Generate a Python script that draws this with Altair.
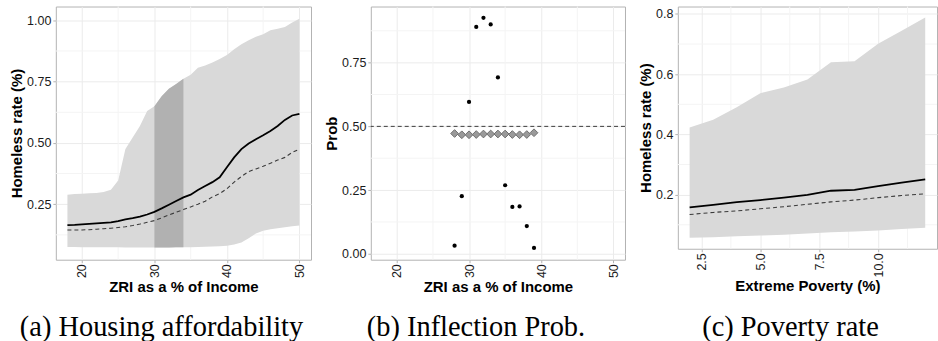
import altair as alt
import pandas as pd

# ---------- Panel (a): housing affordability ----------
zri = list(range(18, 51))
upper_a = [0.289, 0.292, 0.293, 0.295, 0.296, 0.300, 0.309, 0.347, 0.475, 0.522, 0.569,
           0.630, 0.650, 0.690, 0.721, 0.740, 0.762, 0.778, 0.807, 0.816, 0.828, 0.842,
           0.859, 0.882, 0.903, 0.919, 0.933, 0.943, 0.960, 0.966, 0.973, 0.991, 1.007]
lower_a = [0.075, 0.075, 0.074, 0.074, 0.074, 0.074, 0.074, 0.074, 0.073, 0.073, 0.073,
           0.073, 0.073, 0.073, 0.073, 0.074, 0.074, 0.074, 0.075, 0.076, 0.077, 0.078,
           0.080, 0.086, 0.094, 0.111, 0.130, 0.142, 0.148, 0.152, 0.156, 0.160, 0.163]
mean_a = [0.165, 0.166, 0.168, 0.170, 0.172, 0.174, 0.176, 0.181, 0.188, 0.193, 0.199,
          0.208, 0.219, 0.233, 0.248, 0.263, 0.278, 0.289, 0.308, 0.324, 0.340, 0.360,
          0.401, 0.441, 0.475, 0.498, 0.515, 0.531, 0.549, 0.569, 0.594, 0.612, 0.619]
median_a = [0.145, 0.145, 0.145, 0.146, 0.148, 0.150, 0.152, 0.155, 0.158, 0.163, 0.169,
            0.176, 0.183, 0.194, 0.206, 0.217, 0.228, 0.239, 0.250, 0.262, 0.280, 0.293,
            0.313, 0.340, 0.363, 0.383, 0.394, 0.405, 0.417, 0.430, 0.441, 0.461, 0.475]
highlight_from, highlight_to = 30, 34

# ---------- Panel (b): inflection probability ----------
zri_b = list(range(28, 40))
prob_dots = [0.032, 0.226, 0.596, 0.890, 0.926, 0.900, 0.692, 0.269, 0.184, 0.186, 0.109, 0.023]
prob_diamonds = [0.472, 0.467, 0.467, 0.468, 0.470, 0.470, 0.470, 0.470, 0.468, 0.467, 0.468, 0.475]
threshold = 0.5

# ---------- Panel (c): poverty rate ----------
poverty = list(range(2, 13))
upper_c = [0.423, 0.449, 0.490, 0.537, 0.556, 0.582, 0.640, 0.643, 0.701, 0.744, 0.788]
lower_c = [0.057, 0.059, 0.062, 0.064, 0.067, 0.071, 0.075, 0.078, 0.081, 0.086, 0.090]
mean_c = [0.158, 0.166, 0.175, 0.182, 0.190, 0.199, 0.213, 0.216, 0.228, 0.240, 0.251]
median_c = [0.134, 0.141, 0.146, 0.153, 0.160, 0.168, 0.176, 0.182, 0.190, 0.197, 0.203]

# tick values / minor grid values
xticks_ab = [20, 30, 40, 50]
xminor_ab = [25, 35, 45]
yticks_a = [0.25, 0.50, 0.75, 1.00]
yticks_b = [0.00, 0.25, 0.50, 0.75]
yminor_ab = [0.125, 0.375, 0.625, 0.875]
xticks_c = [2.5, 5.0, 7.5, 10.0]
xminor_c = [3.75, 6.25, 8.75, 11.25]
yticks_c = [0.2, 0.4, 0.6, 0.8]
yminor_c = [0.1, 0.3, 0.5, 0.7]

captions = ["(a) Housing affordability", "(b) Inflection Prob.", "(c) Poverty rate"]

SANS = "Liberation Sans"
GRID = "#ebebeb"
MINOR = "#f4f4f4"
BAND = "#d9d9d9"
BAND_DARK = "#b1b1b1"


def x_axis(values, fmt, title):
    return alt.Axis(values=values, format=fmt, labelAngle=270, title=title, grid=True)


def y_axis(values, fmt, title):
    return alt.Axis(values=values, format=fmt, title=title, grid=True)


def minor_layers(xs, ys, xscale, yscale, xax, yax):
    mx = alt.Chart(pd.DataFrame({"mx": xs})).mark_rule(color=MINOR, strokeWidth=1).encode(
        x=alt.X("mx:Q", scale=xscale, axis=xax))
    my = alt.Chart(pd.DataFrame({"my": ys})).mark_rule(color=MINOR, strokeWidth=1).encode(
        y=alt.Y("my:Q", scale=yscale, axis=yax))
    return [mx, my]


def caption(text, dx):
    return alt.TitleParams(text=text, orient="bottom", anchor="middle", frame="group",
                           font="Liberation Serif", fontSize=28.5, fontWeight="normal",
                           color="black", baseline="alphabetic", offset=42, dx=dx)


# ----- Panel (a)
df_a = pd.DataFrame({"x": zri, "lo": lower_a, "hi": upper_a, "mean": mean_a, "median": median_a})
xs_a = alt.Scale(domain=[16.4, 51.6], nice=False, zero=False)
ys_a = alt.Scale(domain=[0.0235, 1.0565], nice=False, zero=False)
xax_a = x_axis(xticks_ab, "d", "ZRI as a % of Income")
yax_a = y_axis(yticks_a, ".2f", "Homeless rate (%)")
base_a = alt.Chart(df_a)
band_a = base_a.mark_area(color=BAND).encode(
    x=alt.X("x:Q", scale=xs_a, axis=xax_a),
    y=alt.Y("lo:Q", scale=ys_a, axis=yax_a),
    y2="hi:Q")
dark_a = base_a.transform_filter(
    (alt.datum.x >= highlight_from) & (alt.datum.x <= highlight_to)
).mark_area(color=BAND_DARK).encode(x="x:Q", y="lo:Q", y2="hi:Q")
line_a = base_a.mark_line(color="black", strokeWidth=1.8).encode(x="x:Q", y="mean:Q")
dash_a = base_a.mark_line(color="#3a3a3a", strokeWidth=1.1, strokeDash=[4, 3]).encode(
    x="x:Q", y="median:Q")
panel_a = alt.layer(*minor_layers(xminor_ab, yminor_ab, xs_a, ys_a, xax_a, yax_a),
                    band_a, dark_a, line_a, dash_a).properties(
    width=256, height=254, title=caption(captions[0], -22))

# ----- Panel (b)
df_b = pd.DataFrame({"x": zri_b, "dot": prob_dots, "dia": prob_diamonds})
xs_b = alt.Scale(domain=[16.4, 51.6], nice=False, zero=False)
ys_b = alt.Scale(domain=[-0.0232, 0.9702], nice=False, zero=False)
xax_b = x_axis(xticks_ab, "d", "ZRI as a % of Income")
yax_b = y_axis(yticks_b, ".2f", "Prob")
base_b = alt.Chart(df_b)
rule_b = alt.Chart(pd.DataFrame({"t": [threshold]})).mark_rule(
    color="#3a3a3a", strokeWidth=1, strokeDash=[4, 3]).encode(
    y=alt.Y("t:Q", scale=ys_b, axis=yax_b))
dots_b = base_b.mark_point(filled=True, color="black", size=18, opacity=1, shape="circle").encode(
    x=alt.X("x:Q", scale=xs_b, axis=xax_b),
    y=alt.Y("dot:Q", scale=ys_b, axis=yax_b))
dia_b = base_b.mark_point(shape="diamond", filled=True, fill="#9a9a9a", stroke="#6e6e6e",
                          strokeWidth=1, size=60, opacity=1).encode(x="x:Q", y="dia:Q")
panel_b = alt.layer(*minor_layers(xminor_ab, yminor_ab, xs_b, ys_b, xax_b, yax_b),
                    rule_b, dots_b, dia_b).properties(
    width=255, height=254, title=caption(captions[1], -22))

# ----- Panel (c)
df_c = pd.DataFrame({"x": poverty, "lo": lower_c, "hi": upper_c, "mean": mean_c, "median": median_c})
xs_c = alt.Scale(domain=[1.5, 12.5], nice=False, zero=False)
ys_c = alt.Scale(domain=[0.0204, 0.8246], nice=False, zero=False)
xax_c = x_axis(xticks_c, ".1f", "Extreme Poverty (%)")
yax_c = y_axis(yticks_c, ".1f", "Homeless rate (%)")
base_c = alt.Chart(df_c)
band_c = base_c.mark_area(color=BAND).encode(
    x=alt.X("x:Q", scale=xs_c, axis=xax_c),
    y=alt.Y("lo:Q", scale=ys_c, axis=yax_c),
    y2="hi:Q")
line_c = base_c.mark_line(color="black", strokeWidth=1.8).encode(x="x:Q", y="mean:Q")
dash_c = base_c.mark_line(color="#3a3a3a", strokeWidth=1.1, strokeDash=[4, 3]).encode(
    x="x:Q", y="median:Q")
panel_c = alt.layer(*minor_layers(xminor_c, yminor_c, xs_c, ys_c, xax_c, yax_c),
                    band_c, line_c, dash_c).properties(
    width=260, height=243, title=caption(captions[2], -17))

chart = alt.hconcat(panel_a, panel_b, panel_c, spacing=12).properties(
    padding={"left": 9, "top": 5, "right": 0, "bottom": 0}
).configure_view(
    stroke="#b3b3b3", strokeWidth=1
).configure_axis(
    domain=False, gridColor=GRID, gridWidth=1, tickColor="#b3b3b3", tickSize=3,
    labelFont=SANS, labelFontSize=12.5, labelColor="#1a1a1a", labelPadding=1,
    titleFont=SANS, titleFontSize=15, titleFontWeight="bold", titleColor="black",
    titlePadding=2
).configure_axisY(labelPadding=2)

chart.save("out.html", embed_options={"renderer": "svg", "actions": False})
